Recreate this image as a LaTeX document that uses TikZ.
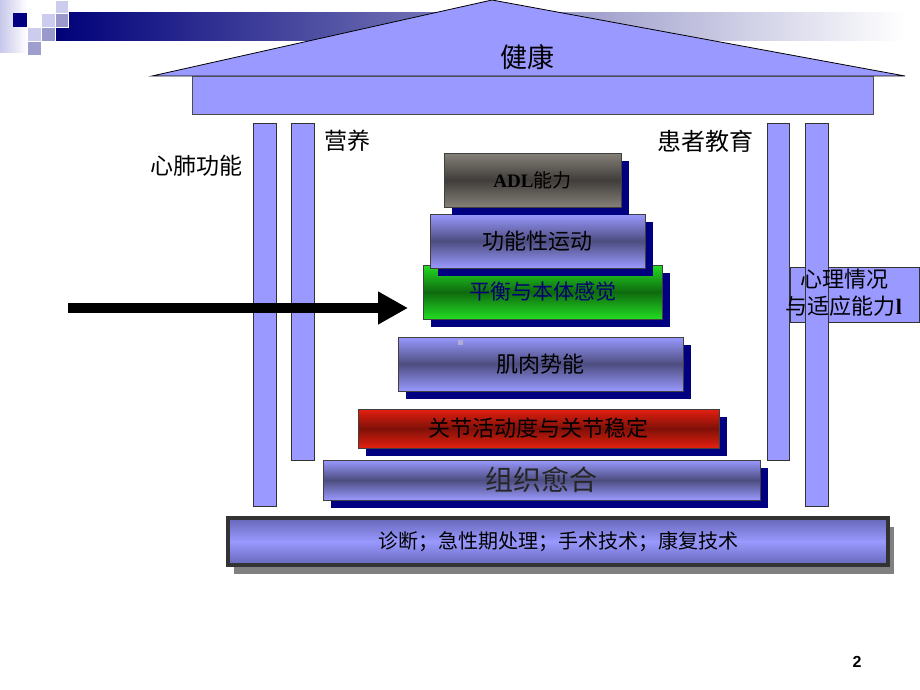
\documentclass[tikz,border=0pt]{standalone}
\usepackage{fontspec}
\setmainfont{Noto Sans CJK SC}
\newfontfamily\serifbold{Liberation Serif}
\newfontfamily\pagefont{Liberation Sans}
\usetikzlibrary{shadows,arrows.meta,positioning}

\definecolor{lav}{HTML}{9999FF}
\definecolor{lavdark}{HTML}{4D4D80}
\definecolor{lavbase}{HTML}{6666B8}
\definecolor{navyshade}{HTML}{000080}
\definecolor{greentop}{HTML}{22DD22}
\definecolor{greenmid}{HTML}{0F6A0F}
\definecolor{redtop}{HTML}{E42010}
\definecolor{redmid}{HTML}{801008}
\definecolor{graytop}{HTML}{858078}
\definecolor{graymid}{HTML}{403D3A}
\definecolor{paleblue}{HTML}{CCCCEE}
\definecolor{midblue}{HTML}{9999CC}

\begin{document}
\begin{tikzpicture}[x=1pt, y=-1pt,
    tier/.style={
        draw=black!75,
        line width=0.8pt,
        inner sep=0pt,
        drop shadow={shadow xshift=8pt, shadow yshift=-8pt, opacity=1, fill=navyshade},
        top color=lav, bottom color=lav, middle color=lavdark,
        font=\fontsize{22}{26}\selectfont
    },
    pillar/.style={draw=black!80, fill=lav, inner sep=0pt, minimum width=23pt},
    label/.style={font=\fontsize{23}{27}\selectfont, inner sep=0pt},
    tile/.style={draw=white, line width=0.4pt}
    ]
    \useasboundingbox (0,0) rectangle (920,690);

    % title banner and tiles
    \shade[left color=navyshade!95!black, right color=white] (55,13) rectangle (905,41);
    \shade[left color=paleblue!90!midblue, right color=white] (0,0) rectangle (27,53);
    \fill[navyshade] (13,13) rectangle (27,27);
    \filldraw[tile, fill=paleblue] (55,0) rectangle (68,13);
    \filldraw[tile, fill=paleblue] (41,13) rectangle (55,27);
    \filldraw[tile, fill=midblue] (55,13) rectangle (68,27);
    \filldraw[tile, fill=paleblue] (27,27) rectangle (41,41);
    \filldraw[tile, fill=midblue] (41,27) rectangle (55,41);
    \filldraw[tile, fill=midblue!90!paleblue] (27,41) rectangle (41,55);

    % roof and beam
    \filldraw[fill=lav, draw=black, line width=0.8pt] (152,76) -- (492,0) -- (905,76) -- cycle;
    \node (beam) [draw=black!70, fill=lav, inner sep=0pt, minimum width=681pt, minimum height=38pt] at (532.5,95) {};
    \node (health) [font=\fontsize{27}{30}\selectfont] at (527,57) {健康};

    % pillars
    \node (psybox) [draw=black!80, fill=lav, inner sep=0pt, minimum width=129pt, minimum height=55pt] at (854.5,294.5) {};
    \node (colA) [pillar, minimum height=383pt] at (264.5,314.5) {};
    \node (colB) [pillar, minimum height=337pt] at (302.5,291.5) {};
    \node (colC) [pillar, minimum height=337pt, minimum width=22pt] at (778,291.5) {};
    \node (colD) [pillar, minimum height=383pt] at (816.5,314.5) {};
    \node (psy) [label, align=center, font=\fontsize{22}{27}\selectfont] at (844,293) {心理情况\\与适应能力{\serifbold\bfseries l}};

    \node (cardio) [label] at (196,166) {心肺功能};
    \node (nutri) [label] at (347,141) {营养};
    \node (edu) [label, font=\fontsize{24}{28}\selectfont] at (705,141) {患者教育};

    % pyramid, bottom up
    \node (tissue) [tier, minimum width=437pt, minimum height=40pt, text=black!85,
        font=\fontsize{28}{32}\selectfont] at (541.5,480) {组织愈合};
    \node (joint) [tier, minimum width=361pt, minimum height=39pt,
        top color=redtop, bottom color=redtop, middle color=redmid] at (538.5,428.5) {关节活动度与关节稳定};
    \node (muscle) [tier, minimum width=285pt, minimum height=54pt] at (540.5,364) {肌肉势能};
    \fill[midblue!80!white] (458,340) rectangle (463,345);
    \node (balance) [tier, minimum width=239pt, minimum height=54pt, text=navyshade!90!black,
        top color=greentop, bottom color=greentop, middle color=greenmid,
        font=\fontsize{21}{26}\selectfont] at (542.5,292) {平衡与本体感觉};
    \node (motion) [tier, minimum width=215pt, minimum height=54pt] at (537.5,241) {功能性运动};
    \node (adl) [tier, minimum width=177pt, minimum height=54pt,
        top color=graytop, bottom color=graytop, middle color=graymid,
        font=\fontsize{19}{22}\selectfont] at (532.5,180) {{\serifbold\bfseries ADL}能力};

    % arrow
    \coordinate (arrowstart) at (68,308);
    \coordinate (arrowtip) at (408,308);
    \draw[line width=10pt, -{Triangle[length=30pt, width=31pt]}] (arrowstart) -- (arrowtip);

    % foundation
    \node (base) [draw=black!80, line width=4pt, inner sep=0pt,
        minimum width=660pt, minimum height=47pt,
        top color=lavbase, bottom color=lavbase, middle color=lav,
        drop shadow={shadow xshift=6pt, shadow yshift=-9pt, opacity=1, fill=black!50},
        font=\fontsize{20}{24}\selectfont] at (558,541.5) {诊断；急性期处理；手术技术；康复技术};

    \node (page) [font=\pagefont\bfseries\fontsize{16}{18}\selectfont] at (857,662) {2};
\end{tikzpicture}
\end{document}
